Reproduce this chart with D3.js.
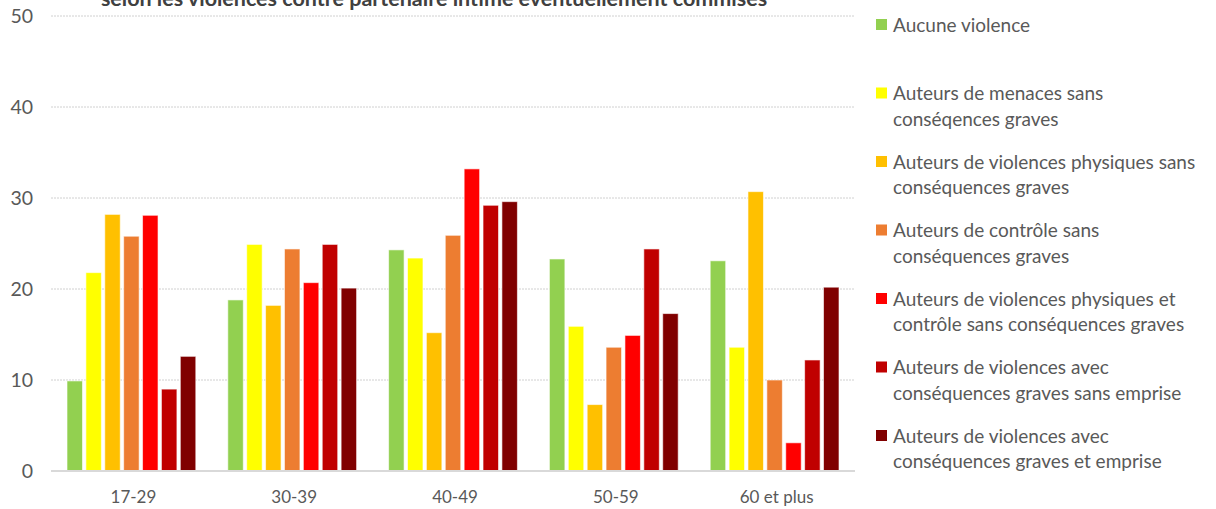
<!DOCTYPE html>
<html>
<head>
<meta charset="utf-8">
<script src="https://cdn.jsdelivr.net/npm/d3@7"></script>
<style>
  body { margin: 0; background: #fff; }
  text { font-family: Lato, "Open Sans", sans-serif; }
</style>
</head>
<body>
<script>
  // age groups and series
  let ages = ["17-29", "30-39", "40-49", "50-59", "60 et plus"];
  let seriesNames = [
    ["Aucune violence"],
    ["Auteurs de menaces sans", "conséqences graves"],
    ["Auteurs de violences physiques sans", "conséquences graves"],
    ["Auteurs de contrôle sans", "conséquences graves"],
    ["Auteurs de violences physiques et", "contrôle sans conséquences graves"],
    ["Auteurs de violences avec", "conséquences graves sans emprise"],
    ["Auteurs de violences avec", "conséquences graves et emprise"]
  ];
  let colors = ["#92D050", "#FFFF00", "#FFC000", "#ED7D31", "#FF0000", "#C00000", "#800000"];

  // values per series, one per age group
  let aucune = [9.9, 18.8, 24.3, 23.3, 23.1];
  let menaces = [21.8, 24.9, 23.4, 15.9, 13.6];
  let physiques = [28.2, 18.2, 15.2, 7.3, 30.7];
  let controle = [25.8, 24.4, 25.9, 13.6, 10.0];
  let physCtrl = [28.1, 20.7, 33.2, 14.9, 3.1];
  let gravesSans = [9.0, 24.9, 29.2, 24.4, 12.2];
  let gravesEmprise = [12.6, 20.1, 29.6, 17.3, 20.2];
  let yTicks = [0, 10, 20, 30, 40, 50];

  let title = "selon les violences contre partenaire intime éventuellement commises";

  let values = [aucune, menaces, physiques, controle, physCtrl, gravesSans, gravesEmprise];

  let svg = d3.select("body").append("svg")
    .attr("width", 1216)
    .attr("height", 509);

  let x0 = d3.scaleBand().domain(ages).range([51, 855]);
  let x1 = d3.scaleBand()
    .domain(d3.range(values.length))
    .range([16, x0.bandwidth() - 16])
    .paddingInner(0.18);
  let y = d3.scaleLinear().domain([0, 50]).range([471, 16]);

  // gridlines
  svg.append("g").selectAll("line")
    .data(yTicks.filter(t => t > 0))
    .enter().append("line")
      .attr("x1", 51).attr("x2", 855)
      .attr("y1", d => y(d)).attr("y2", d => y(d))
      .style("stroke", "#d0d0d0")
      .style("stroke-dasharray", "2,1")
      .attr("stroke-width", 1);

  // y labels
  let yAxis = d3.axisLeft(y).tickValues(yTicks).tickSize(0).tickPadding(0);
  let yg = svg.append("g").attr("transform", "translate(33,0)").call(yAxis);
  yg.select(".domain").remove();
  yg.selectAll("text")
    .style("font-size", "19.5px")
    .style("fill", "#595959")
    .style("font-family", "Lato, sans-serif");

  // bars
  let groups = svg.append("g").selectAll("g")
    .data(ages)
    .enter().append("g")
      .attr("transform", d => "translate(" + x0(d) + ",0)");

  groups.selectAll("rect")
    .data((d, i) => values.map((s, k) => ({ k: k, v: s[i] })))
    .enter().append("rect")
      .attr("x", d => x1(d.k))
      .attr("y", d => y(d.v))
      .attr("width", x1.bandwidth())
      .attr("height", d => y(0) - y(d.v))
      .attr("fill", d => colors[d.k])
      .style("stroke", "#fff")
      .style("stroke-opacity", 0.6)
      .attr("stroke-width", 1);

  // baseline
  svg.append("line")
    .attr("x1", 51).attr("x2", 855)
    .attr("y1", y(0)).attr("y2", y(0))
    .style("stroke", "#d9d9d9")
    .attr("stroke-width", 2);

  // x labels
  let xAxis = d3.axisBottom(x0).tickSize(0).tickPadding(0);
  let xg = svg.append("g").attr("transform", "translate(2,503)").call(xAxis);
  xg.select(".domain").remove();
  xg.selectAll("text")
    .attr("dy", 0)
    .style("font-size", "17px")
    .style("fill", "#595959")
    .style("font-family", "Lato, sans-serif");

  // title (cut at the top, as in the source)
  svg.append("text")
    .attr("x", 434)
    .attr("y", 6)
    .attr("text-anchor", "middle")
    .style("font-size", "21.5px")
    .style("font-weight", "bold")
    .style("fill", "#404040")
    .text(title);

  // legend
  let legend = svg.append("g").selectAll("g")
    .data(seriesNames)
    .enter().append("g")
      .attr("transform", (d, i) => "translate(876," + (25 + i * 68.5) + ")");

  legend.append("rect")
    .attr("x", 0).attr("y", -6)
    .attr("width", 11).attr("height", 11)
    .attr("fill", (d, i) => colors[i]);

  legend.selectAll("text")
    .data(d => d)
    .enter().append("text")
      .attr("x", 17)
      .attr("y", (d, j) => j * 25.5)
      .attr("dy", "0.35em")
      .style("font-size", "19px")
      .style("fill", "#595959")
      .text(d => d);
</script>
</body>
</html>
